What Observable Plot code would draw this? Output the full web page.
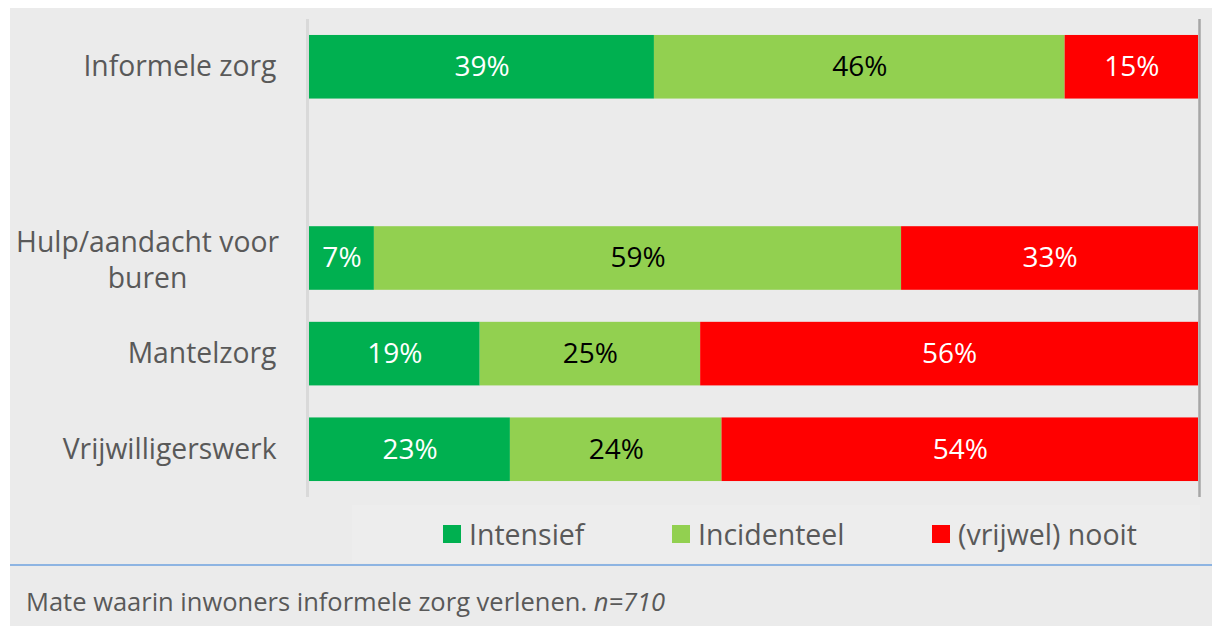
<!DOCTYPE html>
<html><head><meta charset="utf-8">
<script src="https://cdn.jsdelivr.net/npm/d3@7"></script>
<script src="https://cdn.jsdelivr.net/npm/@observablehq/plot@0.6"></script>
<style>
body{margin:0;background:#fff;font-family:"Open Sans",sans-serif;}
#wrap{position:relative;width:1212px;height:626px;overflow:hidden;}
#panel{position:absolute;left:10px;top:8px;right:0;bottom:0;background:#ebebeb;}
#chart{position:absolute;left:0;top:0;}
#legendBox{position:absolute;left:352px;top:505px;width:848px;height:58px;background:#ededed;}
#legend{position:absolute;left:443px;top:505px;height:58px;display:flex;align-items:center;font-size:28.5px;color:#595959;white-space:nowrap;}
.item{display:flex;align-items:center;}
.sw{width:18px;height:18px;margin-right:8px;flex:none;}
#rule{position:absolute;left:10px;right:0;top:564px;height:2px;background:#8db4e2;}
#caption{position:absolute;left:26px;top:589px;font-size:25.5px;line-height:1;color:#595959;white-space:nowrap;}
</style></head>
<body>
<div id="wrap">
  <div id="panel"></div>
  <div id="legendBox"></div>
  <div id="chart"></div>
  <div id="legend"></div>
  <div id="rule"></div>
  <div id="caption">Mate waarin inwoners informele zorg verlenen. <i>n=710</i></div>
</div>
<script>
const categories = ["Informele zorg", "", "Hulp/aandacht voor buren", "Mantelzorg", "Vrijwilligerswerk"];
const categoryLabels = ["Informele zorg", "", "Hulp/aandacht voor\nburen", "Mantelzorg", "Vrijwilligerswerk"];
const series = ["Intensief", "Incidenteel", "(vrijwel) nooit"];
const colors = ["#00b050", "#92d050", "#ff0000"];
const labelColors = ["white", "black", "white"];
const intensief = [38.8, null, 7.3, 19.2, 22.6];
const incidenteel = [46.2, null, 59.3, 24.8, 23.8];
const nooit = [15.0, null, 33.4, 56.0, 53.6];
const values = [intensief, incidenteel, nooit];

const rows = [];
categories.forEach((c, i) => {
  let acc = 0;
  series.forEach((s, j) => {
    const v = values[j][i];
    if (v == null) return;
    rows.push({cat: c, series: s, value: v, x1: acc, x2: acc + v, labelColor: labelColors[j]});
    acc += v;
  });
});

const idx = categories.map((_, i) => i);
const singleIdx = idx.filter(i => categories[i] !== "" && !categoryLabels[i].includes("\n"));
const multiIdx = idx.filter(i => categoryLabels[i].includes("\n"));

const chart = Plot.plot({
  width: 1212, height: 505,
  marginLeft: 309, marginRight: 14, marginTop: 19, marginBottom: 8,
  style: {background: "transparent", fontFamily: "Open Sans", overflow: "visible"},
  x: {domain: [0, 100], axis: null},
  y: {domain: categories, axis: null, paddingInner: 0.335, paddingOuter: 0.167, round: false},
  color: {domain: series, range: colors},
  marks: [
    Plot.ruleX([0], {stroke: "#d9d9d9", strokeWidth: 3, dx: -2}),
    Plot.ruleX([100], {stroke: "#a6a6a6", strokeWidth: 2.5, dx: 1}),
    Plot.barX(rows, {x1: "x1", x2: "x2", y: "cat", fill: "series"}),
    Plot.text(rows.filter(d => d.labelColor === "white"), {x: d => (d.x1 + d.x2) / 2, y: "cat", text: d => Math.round(d.value) + "%", fill: "white", fontSize: 28}),
    Plot.text(rows.filter(d => d.labelColor === "black"), {x: d => (d.x1 + d.x2) / 2, y: "cat", text: d => Math.round(d.value) + "%", fill: "black", fontSize: 28}),
    Plot.text(singleIdx, {y: i => categories[i], text: i => categoryLabels[i], frameAnchor: "left", dx: -33, textAnchor: "end", fill: "#595959", fontSize: 28.3}),
    Plot.text(multiIdx, {y: i => categories[i], text: i => categoryLabels[i], frameAnchor: "left", dx: -162, textAnchor: "middle", fill: "#595959", fontSize: 28.3, lineHeight: 1.28})
  ]
});
document.getElementById("chart").appendChild(chart);

const color = chart.scale("color");
const legend = document.getElementById("legend");
const swatchX = [0, 229, 489];
color.domain.forEach((s, i) => {
  const item = document.createElement("div");
  item.className = "item";
  item.style.position = "absolute";
  item.style.left = swatchX[i] + "px";
  const sw = document.createElement("div");
  sw.className = "sw";
  sw.style.background = color.range[i];
  const t = document.createElement("span");
  t.textContent = s;
  item.appendChild(sw);
  item.appendChild(t);
  legend.appendChild(item);
});
</script>
</body></html>
